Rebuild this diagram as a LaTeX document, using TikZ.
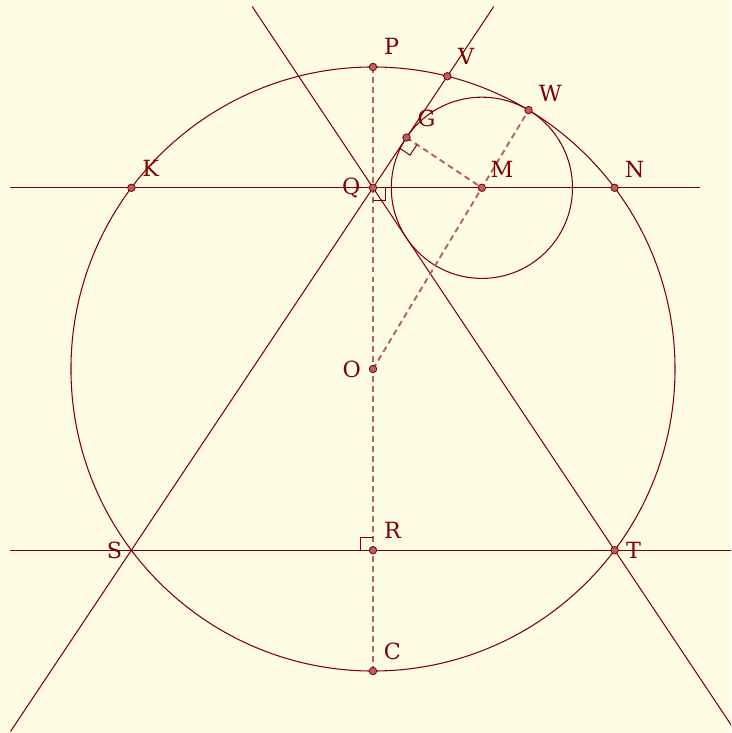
\documentclass[tikz,border=0pt]{standalone}
\usepackage{fontspec}
\setmainfont{DejaVu Serif}
\usepackage{xcolor}
\usetikzlibrary{calc}
\definecolor{maroon}{HTML}{800000}
\definecolor{paper}{HTML}{FFFCE6}

\begin{document}
\begin{tikzpicture}[
      line/.style={draw=maroon, line width=0.5pt},
      aux/.style={draw=maroon!60!paper, line width=0.9pt, dash pattern=on 2.8pt off 1.9pt},
      pt/.style={circle, draw=maroon, fill=maroon!60!paper, line width=0.4pt, inner sep=0pt, minimum size=3.5pt},
      every label/.style={text=maroon, font=\fontsize{10.5}{12}\selectfont, inner sep=0pt, anchor=center},
      label distance=11pt
    ]
      \fill[paper] (-6.175,-6.026) rectangle (5.927,6.109);
      \useasboundingbox (-6.175,-6.026) rectangle (5.927,6.109);
      \clip (-6.175,-6.026) rectangle (5.927,6.109);

      % points of the figure
      \coordinate (O) at (0,0);
      \coordinate (P) at (0,5);
      \coordinate (C) at (0,-5);
      \coordinate (Q) at (0,3);
      \coordinate (R) at (0,-3);
      \coordinate (K) at (-4,3);
      \coordinate (N) at (4,3);
      \coordinate[label={[label distance=8pt]180:S}] (S) at (-4,-3);
      \coordinate (T) at (4,-3);
      \coordinate (M) at (1.80278,3);
      \coordinate (V) at (1.23077,4.84615);
      \coordinate (W) at (2.57540,4.28571);
      \coordinate (G) at (0.55470,3.83205);

      % ends of the long lines
      \coordinate (qleft) at (-6.01,3);
      \coordinate (qright) at (5.414,3);
      \coordinate (rleft) at (-6.01,-3);
      \coordinate (rright) at (6,-3);
      \coordinate (sdown) at (-6,-6);
      \coordinate (sup) at (2,6);
      \coordinate (tup) at (-2,6);
      \coordinate (tdown) at (6,-6);

      \draw[line] (O) circle (5);
      \draw[line] (M) circle (1.5);
      \draw[line] (qleft) -- (qright);
      \draw[line] (rleft) -- (rright);
      \draw[line] (sdown) -- (sup);
      \draw[line] (tup) -- (tdown);

      \draw[aux] (P) -- (C);
      \draw[aux] (O) -- (W);
      \draw[aux] (G) -- (M);

      % right angles
      \draw[line] ($(Q)+(0.21,0)$) -- ++(0,-0.21) -- ++(-0.21,0);
      \draw[line] ($(R)+(-0.21,0)$) -- ++(0,0.21) -- ++(0.21,0);
      \draw[line] ($(G)!0.21cm!(Q)$) -- ++(-33.69:0.21) -- ++(56.31:0.21);

      \node[pt, label=47:P] (p) at (P) {};
      \node[pt, label=47:V] (v) at (V) {};
      \node[pt, label=38:W] (w) at (W) {};
      \node[pt, label=43:G] (g) at (G) {};
      \node[pt, label=43:M] (m) at (M) {};
      \node[pt, label=43:N] (n) at (N) {};
      \node[pt, label=45:K] (k) at (K) {};
      \node[pt, label={[label distance=8.3pt]180:Q}] (q) at (Q) {};
      \node[pt, label={[label distance=8pt]180:O}] (o) at (O) {};
      \node[pt, label=45:R] (r) at (R) {};
      \node[pt, label={[label distance=7pt]0:T}] (t) at (T) {};
      \node[pt, label=45:C] (c) at (C) {};
\end{tikzpicture}
\end{document}
